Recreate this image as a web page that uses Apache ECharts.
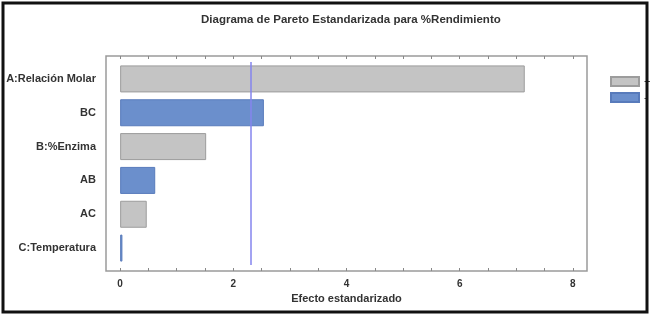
<!DOCTYPE html>
<html>
<head>
<meta charset="utf-8">
<script src="https://cdn.jsdelivr.net/npm/echarts@6/dist/echarts.min.js"></script>
<style>
  html, body { margin: 0; padding: 0; background: #fff; }
  #pareto { width: 650px; height: 316px; }
</style>
</head>
<body>
<div id="pareto"></div>
<script>
"use strict"

// datos del diagrama de Pareto
let factores = ["A:Relación Molar", "BC", "B:%Enzima", "AB", "AC", "C:Temperatura"];
let efectos = [7.15, 2.54, 1.52, 0.62, 0.47, 0.04];
let signos = ["+", "-", "+", "-", "+", "-"];
let limite = 2.31;
let etiquetasX = [0, 2, 4, 6, 8];
let marcasX = [0, 0.5, 1, 1.5, 2, 2.5, 3, 3.5, 4, 4.5, 5, 5.5, 6, 6.5, 7, 7.5, 8];

showPareto();

function showPareto() {
    var myChart = echarts.init(document.getElementById("pareto"));
    var fuente = "Liberation Sans";

    // separar por signo
    var positivos = efectos.map(function (v, i) { return signos[i] === "+" ? v : null; });
    var negativos = efectos.map(function (v, i) { return signos[i] === "-" ? v : null; });

    var option = {
        animation: false,
        title: {
            text: "Diagrama de Pareto Estandarizada para %Rendimiento",
            left: 196,
            top: 9,
            textStyle: { color: "#333", fontSize: 11.5, fontWeight: "bold", fontFamily: fuente }
        },
        legend: {
            data: ["+", "-"],
            orient: "vertical",
            left: 605,
            top: 71,
            icon: "rect",
            itemWidth: 28,
            itemHeight: 9,
            itemGap: 5,
            textStyle: { color: "#333", fontSize: 11, fontFamily: fuente }
        },
        grid: [
            { left: 106, top: 56, width: 481, height: 215, show: true, borderColor: "#9a9a9a", borderWidth: 1.5, backgroundColor: "#fff" },
            { left: 106, top: 62, width: 481, height: 203 }
        ],
        xAxis: [{
            type: "value", gridIndex: 0, position: "bottom",
            min: -0.25, max: 8.25,
            name: "Efecto estandarizado", nameLocation: "middle", nameGap: 20,
            nameTextStyle: { color: "#333", fontSize: 11, fontWeight: "bold", fontFamily: fuente },
            axisLine: { show: false },
            splitLine: { show: false },
            axisTick: { inside: true, length: 3, customValues: marcasX, lineStyle: { color: "#888" } },
            axisLabel: { customValues: etiquetasX, margin: 8, color: "#333", fontSize: 10, fontWeight: "bold", fontFamily: fuente }
        }, {
            type: "value", gridIndex: 0, position: "top",
            min: -0.25, max: 8.25,
            axisLine: { show: false },
            splitLine: { show: false },
            axisTick: { inside: true, length: 3, customValues: marcasX, lineStyle: { color: "#888" } },
            axisLabel: { show: false }
        }, {
            type: "value", gridIndex: 1,
            min: -0.25, max: 8.25,
            show: false
        }],
        yAxis: [{
            type: "value", gridIndex: 0, show: false
        }, {
            type: "category", gridIndex: 1,
            data: factores,
            inverse: true,
            axisLine: { show: false },
            axisTick: { show: false },
            splitLine: { show: false },
            axisLabel: { margin: 10, color: "#333", fontSize: 11, fontWeight: "bold", fontFamily: fuente }
        }],
        series: [{
            name: "+",
            type: "bar",
            xAxisIndex: 2,
            yAxisIndex: 1,
            data: positivos,
            barWidth: 27,
            barGap: "-100%",
            itemStyle: { color: "#c4c4c4", borderColor: "#9c9c9c", borderWidth: 1 }
        }, {
            name: "-",
            type: "bar",
            xAxisIndex: 2,
            yAxisIndex: 1,
            data: negativos,
            barWidth: 27,
            barGap: "-100%",
            itemStyle: { color: "#6b8fcc", borderColor: "#587bbb", borderWidth: 1 },
            markLine: {
                silent: true,
                symbol: "none",
                label: { show: false },
                lineStyle: { color: "#8484ee", width: 1.5, type: "solid", opacity: 1 },
                data: [{ xAxis: limite }]
            }
        }],
        graphic: [{
            type: "rect",
            z: 100,
            shape: { x: 3, y: 3, width: 644, height: 309 },
            style: { fill: null, stroke: "#111", lineWidth: 3 }
        }]
    };

    option && myChart.setOption(option);
}
</script>
</body>
</html>
